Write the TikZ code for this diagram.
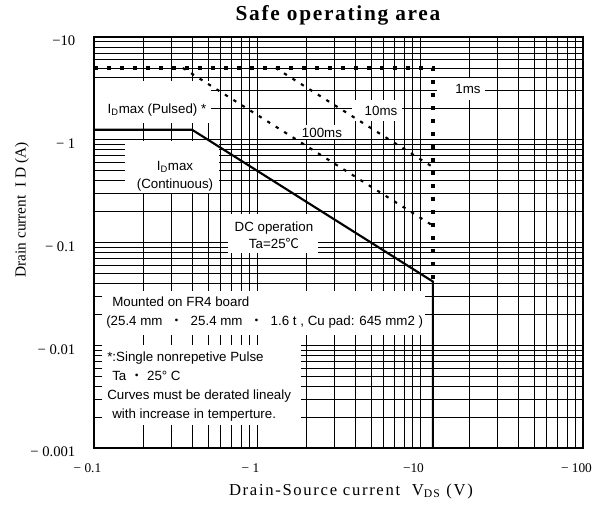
\documentclass[tikz,border=0pt]{standalone}
\usepackage{fontspec}
\setmainfont{Liberation Serif}
\setsansfont{Liberation Sans}
\newfontfamily\cjk{Noto Sans CJK JP}
\newfontfamily\titlefont[LetterSpace=8]{Liberation Serif}
\newfontfamily\axisfont[LetterSpace=10]{Liberation Serif}
\usepackage{tikz}
\usetikzlibrary{calc}

\begin{document}
\begin{tikzpicture}[x=122.25pt, y=77.0625pt,
		gridline/.style={line width=0.6pt},
		frame/.style={line width=1.5pt},
		dcline/.style={line width=1.6pt},
		pulse/.style={line width=2.4pt, dash pattern=on 3pt off 6.75pt},
		pulsediag/.style={line width=1.6pt, dash pattern=on 2.5pt off 5pt},
		mask/.style={fill=white},
		lbl/.style={font=\sffamily\fontsize{10}{12}\selectfont, inner sep=0pt},
		ytick/.style={anchor=east, font=\fontsize{11}{13}\selectfont},
		xtick/.style={font=\fontsize{10}{12}\selectfont}]

		\useasboundingbox (-0.5767,-0.6131) rectangle (3.1166,4.3601);

		% log grid
		\foreach \d in {0,1,2}
			\foreach \m in {1,...,9}
				\draw[gridline] ({\d+log10(\m)},0) -- ({\d+log10(\m)},4);
		\foreach \d in {0,1,2,3}
			\foreach \m in {1,...,9}
				\draw[gridline] (0,{\d+log10(\m)}) -- (3,{\d+log10(\m)});

		% white under the labels
		\fill[mask] (0,3.5718) rectangle (0.7178,3.1630);
		\fill[mask] (0.1902,2.9878) rectangle (0.7669,2.4818);
		\fill[mask] (0.8221,2.2774) rectangle (1.3742,1.8978);
		\fill[mask] (0.0491,1.5280) rectangle (2.0307,1.0998);
		\fill[mask] (0.0491,1.0024) rectangle (1.2699,0.2238);
		\fill[mask] (2.1043,3.6010) rectangle (2.3988,3.3869);
		\fill[mask] (1.5828,3.3869) rectangle (1.8896,3.1825);
		\fill[mask] (1.2454,3.1436) rectangle (1.5706,3.0073);

		\coordinate (pulseleft) at (0,3.69897);
		\coordinate (pulsecorner) at (2.07918,3.69897);
		\coordinate (dcleft) at (0,3.09691);
		\coordinate (dcknee) at (0.60206,3.09691);
		\coordinate (dcend) at (2.07918,1.61979);
		\coordinate (vmax) at (2.07918,0);
		\coordinate (tenstart) at (1.11394,3.69897);
		\coordinate (tenend) at (2.07918,2.73373);
		\coordinate (hundstart) at (0.54407,3.69897);
		\coordinate (hundend) at (2.07918,2.16386);

		\draw[dcline] (dcleft) -- (dcknee) -- (dcend) -- (vmax);
		\draw[pulse] (pulseleft) -- (pulsecorner) -- (dcend);
		\draw[pulsediag] (tenstart) -- (tenend);
		\draw[pulsediag] (hundstart) -- (hundend);

		\draw[frame] (0,0) rectangle (3,4);

		\node[lbl] (pulsed) at (0.3865,3.2895) {I\textsubscript{D}max (Pulsed) *};
		\node[lbl, align=center] (cont) at (0.4969,2.6472) {I\textsubscript{D}max\\[1.5pt](Continuous)};
		\node[lbl, align=center] (dcop) at (1.1043,2.0681) {DC operation\\[0.75pt]Ta=25{\cjk ℃}};
		\node[lbl, align=left, anchor=west] (board) at (0.0736,1.3187) {\hspace{4.5pt}Mounted on FR4 board\\[2.25pt](25.4 mm \ {\cjk ・} \ 25.4 mm \ {\cjk ・} \ 1.6 t , Cu pad: 645 mm2 )};
		\node[lbl, align=left, anchor=west] (note) at (0.0798,0.5985) {*:Single nonrepetive Pulse\\[2.25pt]\hspace{3.75pt}Ta {\cjk ・} 25° C\\[2.25pt]Curves must be derated linealy\\[2.25pt]\hspace{3.75pt}with increase in temperture.};
		\node[lbl] (onems) at (2.2945,3.4939) {1ms};
		\node[lbl] (tenms) at (1.7607,3.2798) {10ms};
		\node[lbl] (hundms) at (1.3988,3.0657) {100ms};

		\foreach \y/\t in {4/{−10},3/{− 1},2/{− 0.1},1/{− 0.01},0/{− 0.001}}
			\node[ytick] (y\y) at (-0.0859,\y-0.04) {\t};
		\foreach \x/\t in {0/{− 0.1},1/{− 1},2/{−10},3/{− 100}}
			\node[xtick] (x\x) at (\x-0.04,-0.1946) {\t};

		\node[font=\titlefont\bfseries\fontsize{16}{18}\selectfont] (title) at (1.4969,4.2141) {Safe operating area};
		\node[font=\axisfont\fontsize{12.5}{14}\selectfont] (xlabel) at (1.5767,-0.4185) {Drain-Source current\ \ V\textsubscript{DS} (V)};
		\node[rotate=90, font=\fontsize{11.5}{13}\selectfont] (ylabel) at (-0.4417,2.3163) {Drain current\ \ I D (A)};
	\end{tikzpicture}
\end{document}
